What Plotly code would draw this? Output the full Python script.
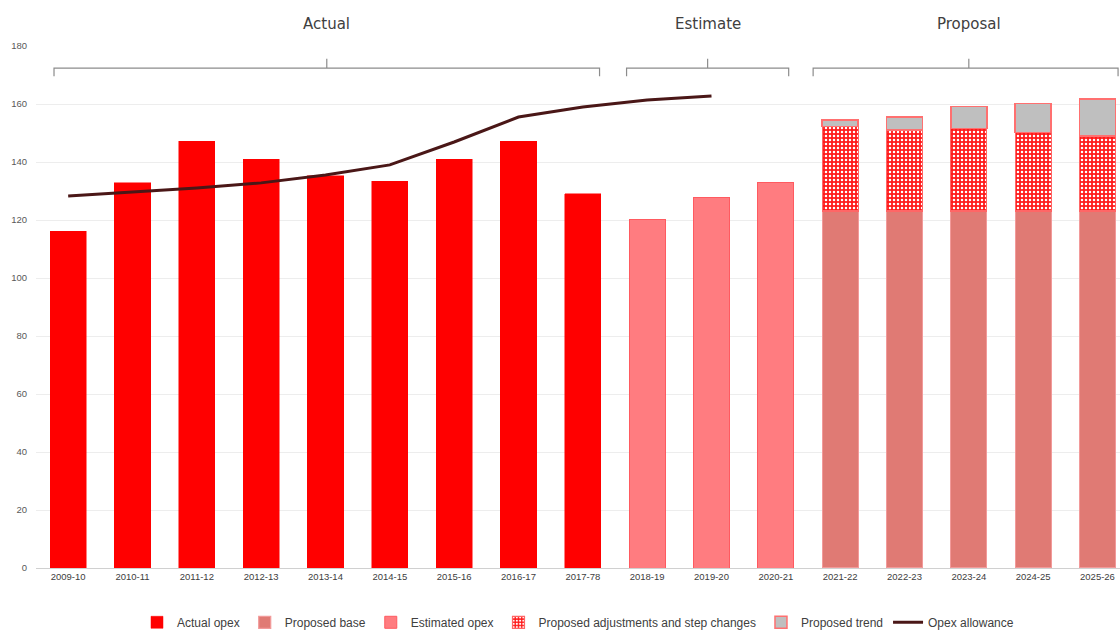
import plotly.graph_objects as go

years = ["2009-10", "2010-11", "2011-12", "2012-13", "2013-14", "2014-15",
         "2015-16", "2016-17", "2017-78", "2018-19", "2019-20", "2020-21",
         "2021-22", "2022-23", "2023-24", "2024-25", "2025-26"]

actual_opex = [116.2, 132.8, 147.2, 141.0, 135.2, 133.4, 141.0, 147.2, 129.0]
estimated_opex = [120.3, 127.6, 132.8]
proposed_base = [123.1, 123.1, 123.1, 123.1, 123.1]
proposed_adjustments = [29.1, 27.9, 28.5, 27.1, 25.9]
proposed_trend = [2.3, 4.6, 7.5, 10.0, 12.7]
opex_allowance = [128.3, 129.7, 131.0, 132.8, 135.5, 139.0, 146.9, 155.5, 159.0, 161.4, 162.8]

# Period headings: (label, bracket start, bracket end, centre) in category units
periods = [("Actual", -0.22, 8.26, 4.02),
           ("Estimate", 8.68, 11.2, 9.94),
           ("Proposal", 11.58, 16.32, 14.0)]

x_actual = years[0:9]
x_est = years[9:12]
x_prop = years[12:17]

fig = go.Figure()
fig.add_trace(go.Bar(name="Actual opex", x=x_actual, y=actual_opex,
                     marker=dict(color="#FF0000", line=dict(color="#FF0000", width=0.5))))
fig.add_trace(go.Bar(name="Proposed base", x=x_prop, y=proposed_base,
                     marker=dict(color="#E07A74", line=dict(color="#F29A9A", width=1.2))))
fig.add_trace(go.Bar(name="Estimated opex", x=x_est, y=estimated_opex,
                     marker=dict(color="#FF7C80", line=dict(color="#FF5A60", width=1))))
fig.add_trace(go.Bar(name="Proposed adjustments and step changes", x=x_prop, y=proposed_adjustments,
                     marker=dict(color="#FF0000", line=dict(color="#FF6666", width=1.2),
                                 pattern=dict(shape=".", fgcolor="#FFFFFF", bgcolor="#FF1A1A",
                                              size=4, solidity=0.3, fillmode="replace"))))
fig.add_trace(go.Bar(name="Proposed trend", x=x_prop, y=proposed_trend,
                     marker=dict(color="#BFBFBF", line=dict(color="#FF7070", width=1.5))))
fig.add_trace(go.Scatter(name="Opex allowance", x=years[0:11], y=opex_allowance,
                         mode="lines", line=dict(color="#4A1717", width=3)))

# Period brackets with their headings
bracket_color = "#8C8C8C"
for label, x0, x1, xm in periods:
    fig.add_shape(type="path",
                  path=f"M {x0},169.6 L {x0},172.4 L {x1},172.4 L {x1},169.6",
                  xref="x", yref="y", line=dict(color=bracket_color, width=1.2))
    fig.add_shape(type="line", x0=xm, x1=xm, y0=172.4, y1=175.6, xref="x", yref="y",
                  line=dict(color=bracket_color, width=1.2))
    fig.add_annotation(text=label, x=xm, y=1.043, xref="x", yref="paper", showarrow=False,
                       yanchor="middle",
                       font=dict(family="DejaVu Sans", size=15, color="#404040"))

fig.update_layout(
    width=1120, height=631,
    margin=dict(l=36, r=0, t=46, b=63, autoexpand=False),
    barmode="stack", bargap=0.44,
    plot_bgcolor="#FFFFFF", paper_bgcolor="#FFFFFF",
    font=dict(family="Liberation Sans", color="#595959"),
    showlegend=True,
    legend=dict(orientation="h", x=0.5, xanchor="center", y=-0.104, yanchor="middle",
                font=dict(size=12, color="#404040"), traceorder="normal",
                itemwidth=30),
)
fig.update_xaxes(type="category", categoryorder="array", categoryarray=years,
                 range=[-0.5, 16.35], showgrid=False, showline=True,
                 linecolor="#D0D0D0", linewidth=1, ticks="",
                 tickfont=dict(size=9.5, color="#404040"))
fig.update_yaxes(range=[0, 180], dtick=20, showgrid=True, gridcolor="#EDEDED",
                 gridwidth=1, zeroline=False, ticks="", ticklabelstandoff=8,
                 tickfont=dict(size=9.5, color="#595959"))

fig.write_html("out.html")
